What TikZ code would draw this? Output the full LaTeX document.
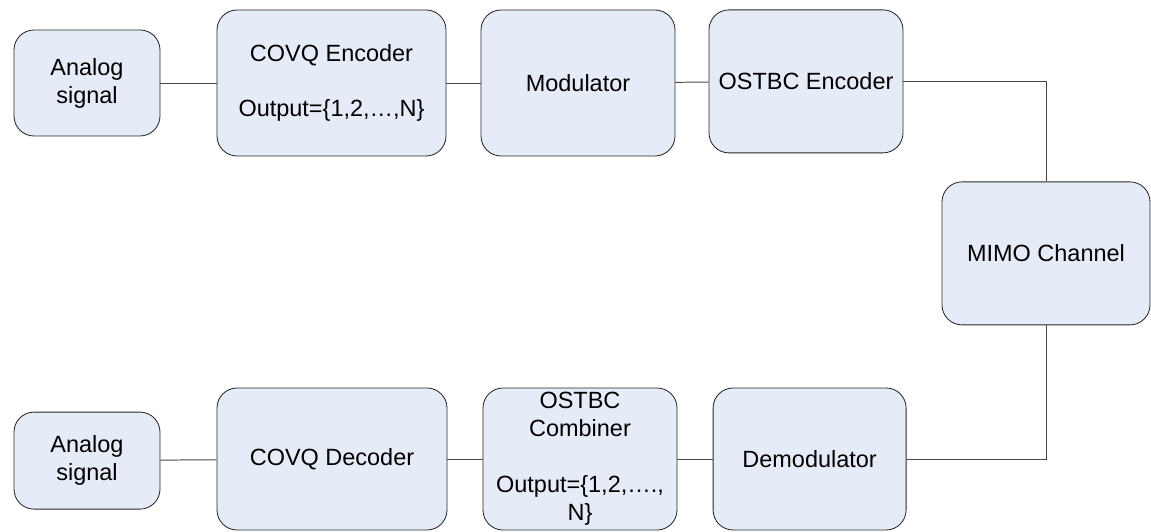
\documentclass[tikz,border=0pt]{standalone}
\usepackage{fontspec}
\setmainfont{Liberation Sans}
\usepackage{tikz}
\usetikzlibrary{positioning,calc}
\usepackage{xcolor}
\definecolor{mmfill}{RGB}{230,236,247}
\definecolor{mmedge}{RGB}{40,40,40}
\definecolor{mmwire}{RGB}{70,70,70}
\tikzset{
  mmbox/.style={draw=mmedge, fill=mmfill, rectangle, rounded corners=0.5cm,
    line width=0.6pt, inner sep=3pt, align=center,
    font=\fontsize{16.7}{19.9}\selectfont},
  mmline/.style={draw=mmwire, line width=0.7pt},
}

\begin{document}
\begin{tikzpicture}
  \useasboundingbox (0,0) rectangle (28.775,13.275);

  % transmitter row
  \node[mmbox, minimum width=3.65cm, minimum height=2.65cm] (sigin) at (2.175,11.2)
    {Analog\\signal};
  \node[mmbox, minimum width=5.725cm, minimum height=3.65cm] (covqenc) at (8.2875,11.2)
    {COVQ Encoder\\[0.68cm]Output=\{1,2,…,N\}};
  \node[mmbox, minimum width=4.85cm, minimum height=3.65cm] (modul) at (14.45,11.2)
    {Modulator};
  \node[mmbox, minimum width=4.85cm, minimum height=3.575cm] (stbcenc) at (20.15,11.24)
    {OSTBC Encoder};

  % channel
  \node[mmbox, minimum width=5.2cm, minimum height=3.575cm] (mimo) at (26.15,6.94)
    {MIMO Channel};

  % receiver row
  \node[mmbox, minimum width=4.825cm, minimum height=3.55cm] (demod) at (20.24,1.8)
    {Demodulator};
  \node[mmbox, minimum width=4.85cm, minimum height=3.55cm, inner ysep=0pt] (stbccomb) at (14.5,1.8)
    {OSTBC\\Combiner\\\\Output=\{1,2,….,\\N\}};
  \node[mmbox, minimum width=5.75cm, minimum height=3.55cm] (covqdec) at (8.3,1.8)
    {COVQ Decoder};
  \node[mmbox, minimum width=3.65cm, minimum height=2.425cm] (sigout) at (2.175,1.76)
    {Analog\\signal};

  \draw[mmline] (sigin) -- (covqenc);
  \draw[mmline] (covqenc) -- (modul);
  \draw[mmline] (modul) -- (stbcenc);
  \draw[mmline] (stbcenc.east) -| (mimo.north);
  \draw[mmline] (mimo.south) |- (demod.east);
  \draw[mmline] (demod) -- (stbccomb);
  \draw[mmline] (stbccomb) -- (covqdec);
  \draw[mmline] (covqdec) -- (sigout);
\end{tikzpicture}
\end{document}
